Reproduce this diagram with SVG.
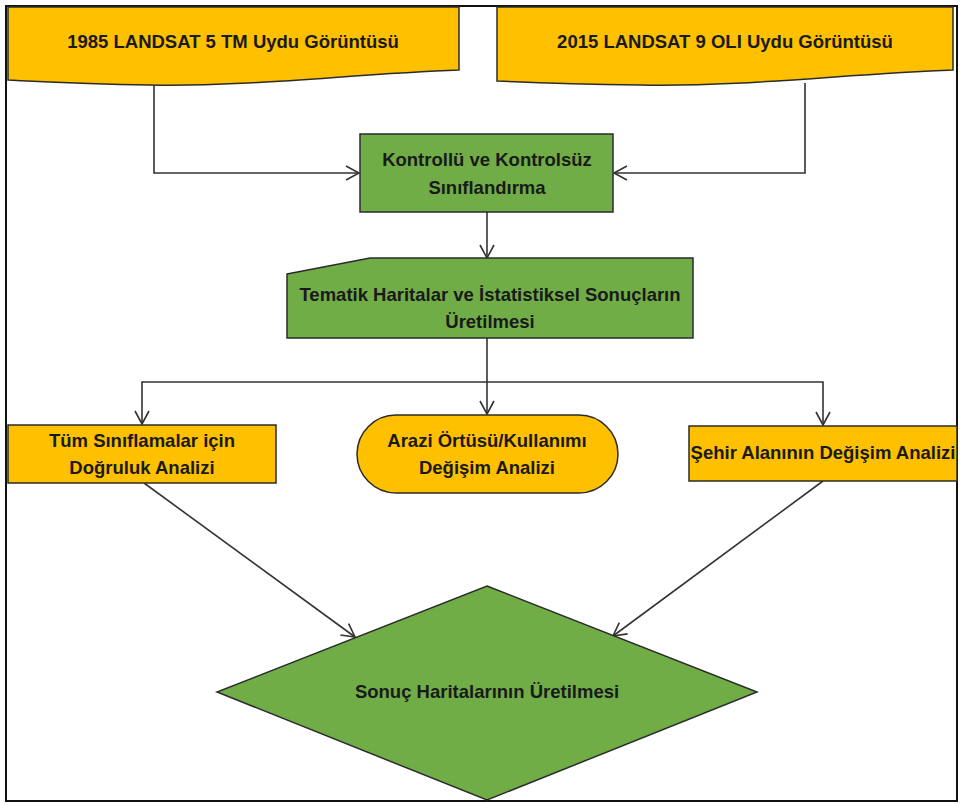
<svg xmlns="http://www.w3.org/2000/svg" width="960" height="804" viewBox="0 0 960 804">
<defs>
<style>
.t{font-family:"Liberation Sans",Arial,sans-serif;font-weight:bold;font-size:18.5px;fill:#1a1a1a;text-anchor:middle}
.or{fill:#FFC000;stroke:#2b2b2b;stroke-width:1.5}
.gr{fill:#70AD47;stroke:#2b2b2b;stroke-width:1.5}
.c{fill:none;stroke:#333;stroke-width:1.6}
.a{marker-end:url(#arr)}
</style>
<marker id="arr" markerUnits="userSpaceOnUse" markerWidth="18" markerHeight="18" refX="14" refY="8" orient="auto">
<path d="M1,1 L14,8 L1,15" fill="none" stroke="#333" stroke-width="1.6"/>
</marker>
</defs>
<rect x="0" y="0" width="960" height="804" fill="#fff"/>
<rect x="6" y="6" width="951" height="795" fill="#fff" stroke="#111" stroke-width="2"/>

<g id="connectors">
<path class="c a" d="M154,83 V173 H359"/>
<path class="c a" d="M805,83 V173 H614"/>
<path class="c a" d="M487,212 V258"/>
<path class="c a" d="M487,338 V414"/>
<path class="c a" d="M487,382 H142 V424"/>
<path class="c a" d="M487,382 H823 V425"/>
<path class="c a" d="M144,483 L355,637"/>
<path class="c a" d="M823,481 L613,636"/>
</g>

<g id="n1985">
<path class="or" d="M8,7 H459 V70 C350,74 250,87 150,85 C80,84 30,81 8,80 Z"/>
<text class="t" x="233" y="48">1985 LANDSAT 5 TM Uydu Görüntüsü</text>
</g>
<g id="n2015">
<path class="or" d="M497,7 H953 V70 C845,74 745,87 640,85 C570,84 520,82 497,81 Z"/>
<text class="t" x="725" y="48">2015 LANDSAT 9 OLI Uydu Görüntüsü</text>
</g>
<g id="nSiniflandirma">
<rect class="gr" x="360" y="134" width="253" height="78"/>
<text class="t" x="487" y="166">Kontrollü ve Kontrolsüz</text>
<text class="t" x="487" y="194">Sınıflandırma</text>
</g>
<g id="nTematik">
<path class="gr" d="M287,274 L370,258 H693 V338 H287 Z"/>
<text class="t" x="490" y="301">Tematik Haritalar ve İstatistiksel Sonuçların</text>
<text class="t" x="490" y="328">Üretilmesi</text>
</g>
<g id="nDogruluk">
<rect class="or" x="8" y="425" width="268" height="58"/>
<text class="t" x="142" y="447">Tüm Sınıflamalar için</text>
<text class="t" x="142" y="474">Doğruluk Analizi</text>
</g>
<g id="nArazi">
<rect class="or" x="357" y="415" width="261" height="78" rx="39" ry="39"/>
<text class="t" x="487" y="447">Arazi Örtüsü/Kullanımı</text>
<text class="t" x="487" y="474">Değişim Analizi</text>
</g>
<g id="nSehir">
<rect class="or" x="689" y="426" width="268" height="55"/>
<text class="t" x="823" y="459">Şehir Alanının Değişim Analizi</text>
</g>
<g id="nSonuc">
<path class="gr" d="M487,586 L757,692 L487,800 L217,692 Z"/>
<text class="t" x="487" y="698">Sonuç Haritalarının Üretilmesi</text>
</g>
</svg>
